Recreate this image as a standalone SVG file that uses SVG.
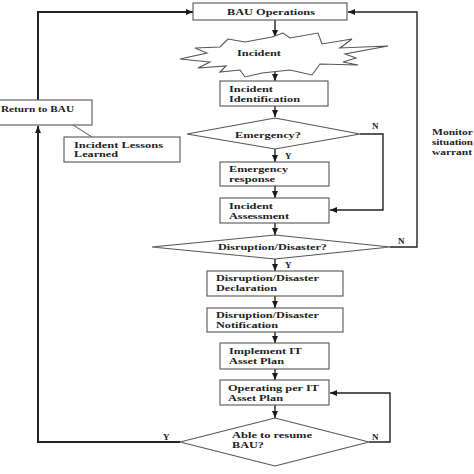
<svg xmlns="http://www.w3.org/2000/svg" width="474" height="474" viewBox="0 0 474 474">
<defs>
<marker id="ah" markerWidth="7" markerHeight="6" refX="7" refY="3" orient="auto" markerUnits="userSpaceOnUse">
<path d="M0,0 L7,3 L0,6 z" fill="#1a1a1a"/>
</marker>
<style>
.box{fill:#fff;stroke:#555;stroke-width:1.1}
.t{font-family:"Liberation Serif","Times New Roman",serif;font-weight:bold;font-size:9px;fill:#222}
.c{fill:none;stroke:#222;stroke-width:1.4}
.ca{fill:none;stroke:#222;stroke-width:1.4;marker-end:url(#ah)}
</style>
</defs>
<rect width="474" height="474" fill="#fff"/>

<g id="connectors">
<line class="ca" x1="275" y1="20" x2="275" y2="37"/>
<line class="ca" x1="275" y1="68" x2="275" y2="81"/>
<line class="ca" x1="275" y1="106" x2="275" y2="117"/>
<line class="ca" x1="275" y1="149" x2="275" y2="162"/>
<line class="ca" x1="275" y1="186" x2="275" y2="198"/>
<line class="ca" x1="275" y1="223" x2="275" y2="235"/>
<line class="ca" x1="275" y1="259" x2="275" y2="271"/>
<line class="ca" x1="275" y1="296" x2="275" y2="308"/>
<line class="ca" x1="275" y1="332" x2="275" y2="343"/>
<line class="ca" x1="275" y1="369" x2="275" y2="380"/>
<line class="ca" x1="275" y1="405" x2="275" y2="418"/>
<polyline class="ca" points="360,134 383,134 383,210 330,210"/>
<polyline class="ca" points="390,247 417,247 417,12 348,12"/>
<polyline class="ca" points="369,442 390,442 390,393 330,393"/>
<polyline class="ca" style="stroke-width:2" points="180,442 38,442 38,126"/>
<polyline class="ca" style="stroke-width:2" points="38,100 38,12 193,12"/>
<line class="c" style="stroke:#555;stroke-width:1" x1="73" y1="125" x2="92" y2="137"/>
<text class="t" x="285" y="159">Y</text>
<text class="t" x="285" y="268">Y</text>
<text class="t" x="163" y="440">Y</text>
<text class="t" x="372" y="129">N</text>
<text class="t" x="398" y="244">N</text>
<text class="t" x="372" y="440">N</text>
</g>

<g id="bau">
<rect class="box" x="193" y="3" width="154" height="17"/>
<text class="t" x="227" y="15" textLength="88" lengthAdjust="spacingAndGlyphs">BAU Operations</text>
</g>

<g id="incident">
<polygon class="box" points="180,59 207,53 195,48 220,47 228,39 245,42 272,37 283,33 290,38 318,33 322,44 352,39 340,48 388,46 345,54 356,58 343,62 358,65 320,64 312,75 290,70 262,73 245,77 240,70 220,72 226,66 198,68 210,62"/>
<text class="t" x="237" y="56" textLength="44" lengthAdjust="spacingAndGlyphs">Incident</text>
</g>

<g id="identification">
<rect class="box" x="220" y="81" width="108" height="25"/>
<text class="t" x="229" y="92" textLength="44" lengthAdjust="spacingAndGlyphs">Incident</text>
<text class="t" x="229" y="102" textLength="71" lengthAdjust="spacingAndGlyphs">Identification</text>
</g>

<g id="emergency">
<polygon class="box" points="187,134 275,118 360,134 275,149"/>
<text class="t" x="235" y="138" textLength="66" lengthAdjust="spacingAndGlyphs">Emergency?</text>
</g>

<g id="response">
<rect class="box" x="220" y="162" width="109" height="24"/>
<text class="t" x="229" y="172" textLength="59" lengthAdjust="spacingAndGlyphs">Emergency</text>
<text class="t" x="229" y="182" textLength="46" lengthAdjust="spacingAndGlyphs">response</text>
</g>

<g id="assessment">
<rect class="box" x="220" y="198" width="109" height="25"/>
<text class="t" x="229" y="209" textLength="44" lengthAdjust="spacingAndGlyphs">Incident</text>
<text class="t" x="229" y="219" textLength="60" lengthAdjust="spacingAndGlyphs">Assessment</text>
</g>

<g id="disruption">
<polygon class="box" points="152,247 275,235 390,247 275,259"/>
<text class="t" x="218" y="250" textLength="109" lengthAdjust="spacingAndGlyphs">Disruption/Disaster?</text>
</g>

<g id="declaration">
<rect class="box" x="207" y="271" width="136" height="25"/>
<text class="t" x="216" y="281" textLength="103" lengthAdjust="spacingAndGlyphs">Disruption/Disaster</text>
<text class="t" x="216" y="291" textLength="61" lengthAdjust="spacingAndGlyphs">Declaration</text>
</g>

<g id="notification">
<rect class="box" x="207" y="308" width="136" height="24"/>
<text class="t" x="216" y="318" textLength="103" lengthAdjust="spacingAndGlyphs">Disruption/Disaster</text>
<text class="t" x="216" y="328" textLength="62" lengthAdjust="spacingAndGlyphs">Notification</text>
</g>

<g id="implement">
<rect class="box" x="220" y="343" width="109" height="26"/>
<text class="t" x="229" y="354" textLength="73" lengthAdjust="spacingAndGlyphs">Implement IT</text>
<text class="t" x="229" y="364" textLength="55" lengthAdjust="spacingAndGlyphs">Asset Plan</text>
</g>

<g id="operating">
<rect class="box" x="220" y="380" width="109" height="25"/>
<text class="t" x="228" y="391" textLength="91" lengthAdjust="spacingAndGlyphs">Operating per IT</text>
<text class="t" x="228" y="401" textLength="55" lengthAdjust="spacingAndGlyphs">Asset Plan</text>
</g>

<g id="resume">
<polygon class="box" points="180,442 275,418 369,442 275,466"/>
<text class="t" x="232" y="438" textLength="80" lengthAdjust="spacingAndGlyphs">Able to resume</text>
<text class="t" x="232" y="448" textLength="32" lengthAdjust="spacingAndGlyphs">BAU?</text>
</g>

<g id="return">
<rect class="box" x="-5" y="100" width="97" height="25"/>
<text class="t" x="1" y="112" textLength="73" lengthAdjust="spacingAndGlyphs">Return to BAU</text>
</g>

<g id="lessons">
<rect class="box" x="64" y="137" width="116" height="25"/>
<text class="t" x="74" y="148" textLength="89" lengthAdjust="spacingAndGlyphs">Incident Lessons</text>
<text class="t" x="74" y="157" textLength="44" lengthAdjust="spacingAndGlyphs">Learned</text>
</g>

<g id="monitor">
<text class="t" x="432" y="135" textLength="41" lengthAdjust="spacingAndGlyphs">Monitor</text>
<text class="t" x="432" y="145" textLength="41" lengthAdjust="spacingAndGlyphs">situation</text>
<text class="t" x="432" y="155" textLength="40" lengthAdjust="spacingAndGlyphs">warrant</text>
</g>
</svg>
